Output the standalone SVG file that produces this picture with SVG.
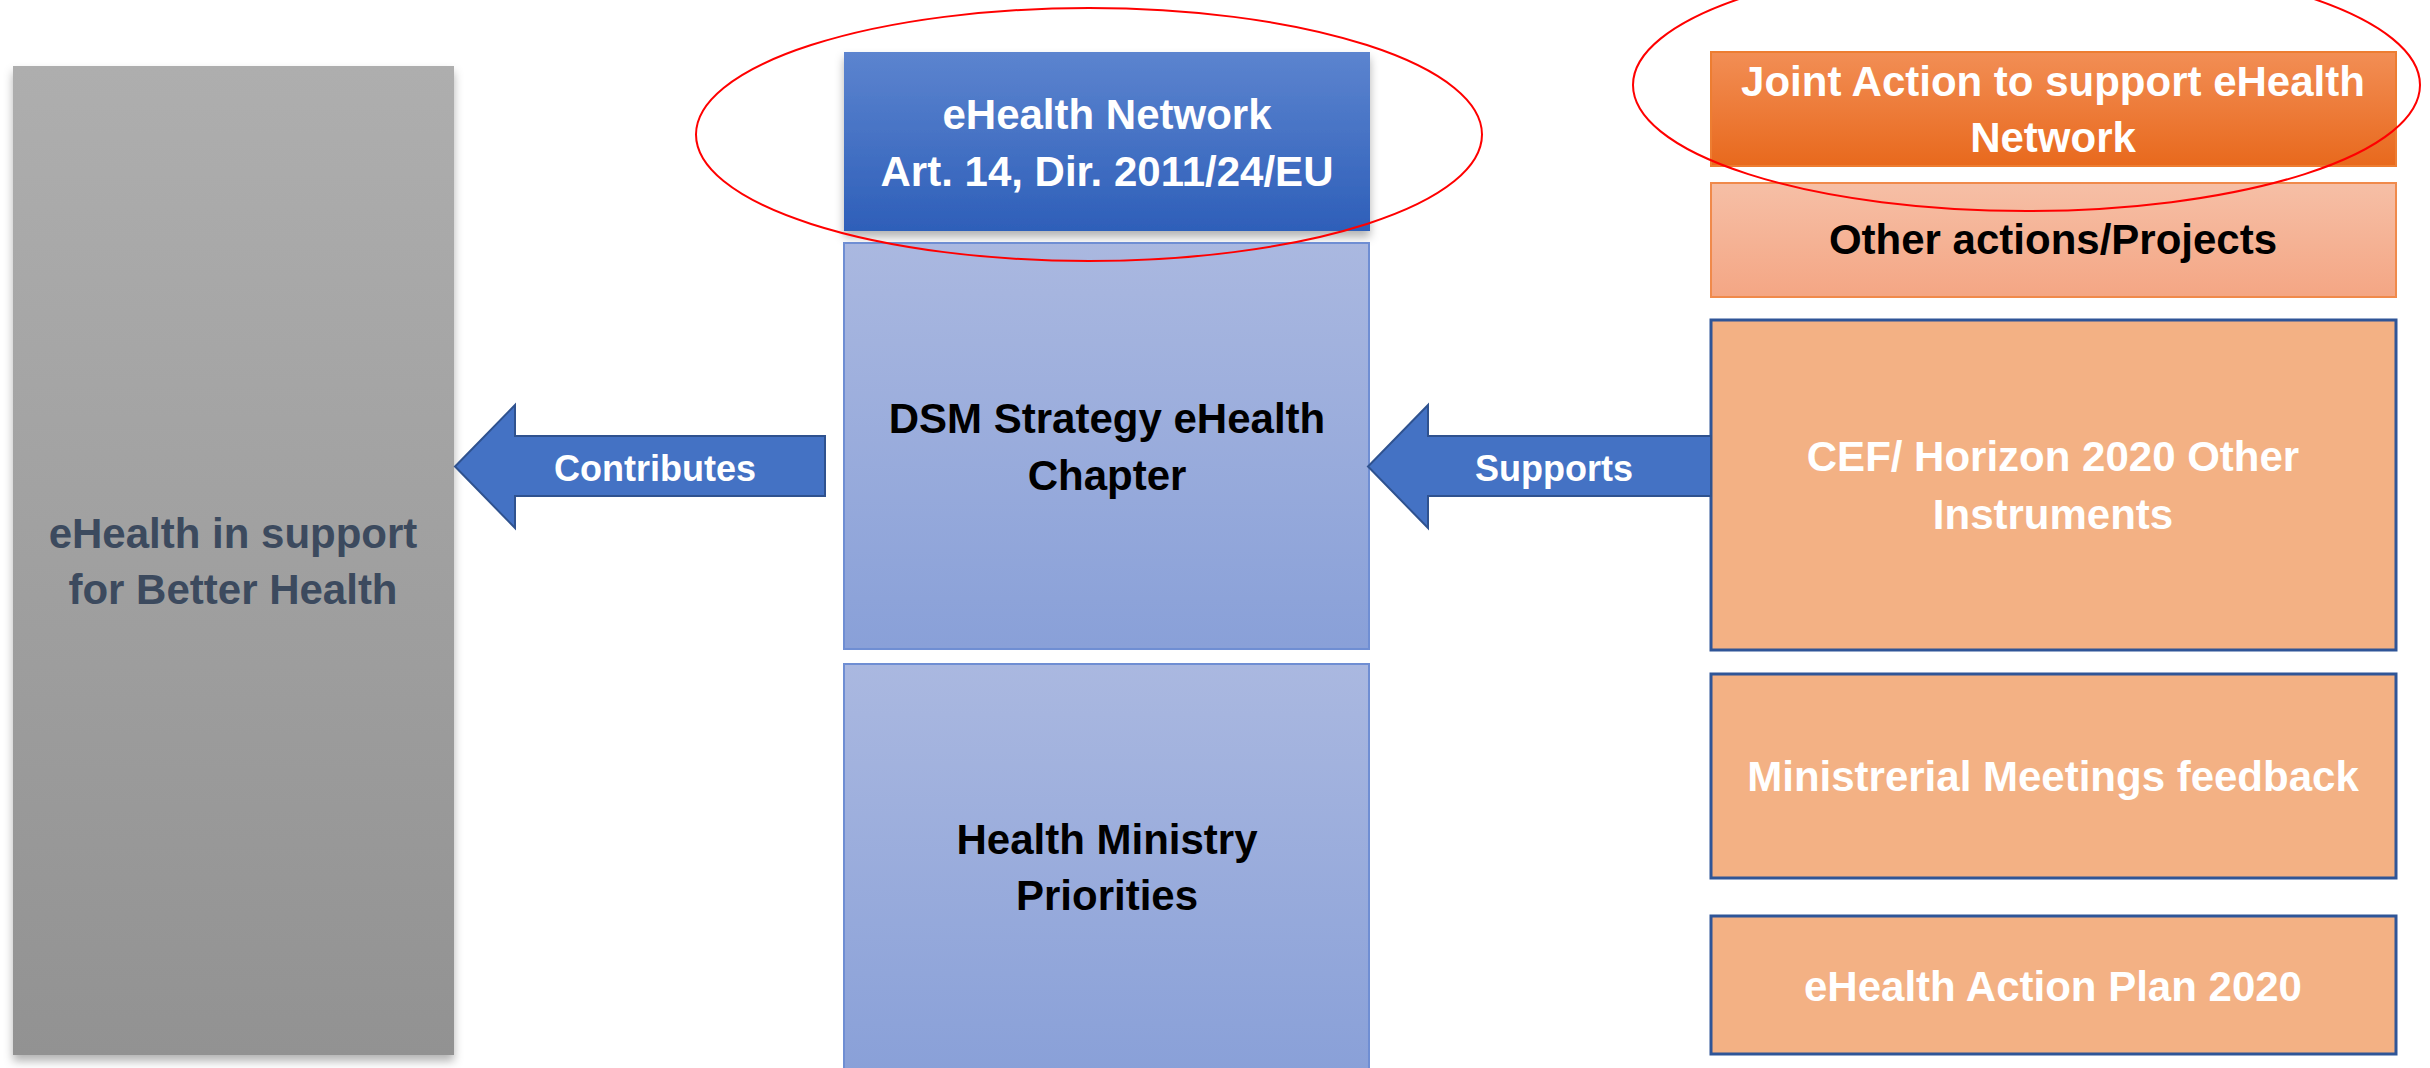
<svg xmlns="http://www.w3.org/2000/svg" width="2430" height="1068" viewBox="0 0 2430 1068">
<defs>
<linearGradient id="gGray" x1="0" y1="0" x2="0" y2="1"><stop offset="0" stop-color="#AEAEAE"/><stop offset="1" stop-color="#929292"/></linearGradient>
<linearGradient id="gBlueDark" x1="0" y1="0" x2="0" y2="1"><stop offset="0" stop-color="#5C84CF"/><stop offset="1" stop-color="#2E5FB9"/></linearGradient>
<linearGradient id="gBlueLight" x1="0" y1="0" x2="0" y2="1"><stop offset="0" stop-color="#AAB8E0"/><stop offset="1" stop-color="#89A0D8"/></linearGradient>
<linearGradient id="gOrange" x1="0" y1="0" x2="0" y2="1"><stop offset="0" stop-color="#F28E55"/><stop offset="1" stop-color="#E8691D"/></linearGradient>
<linearGradient id="gSalmon" x1="0" y1="0" x2="0" y2="1"><stop offset="0" stop-color="#F6BFA6"/><stop offset="1" stop-color="#F4A684"/></linearGradient>
<filter id="shadow" x="-10%" y="-10%" width="120%" height="120%"><feDropShadow dx="0" dy="6" stdDeviation="5" flood-color="#000" flood-opacity="0.3"/></filter>
<marker id="unused" markerWidth="1" markerHeight="1"/>
<style>
text{font-family:"Liberation Sans",Arial,sans-serif;font-weight:bold;text-anchor:middle}
.t42{font-size:42px}
.t36{font-size:36px}
.white{fill:#FFFFFF}
.black{fill:#000000}
.slate{fill:#3C4A5E}
.lightbox{fill:url(#gBlueLight);stroke:#6F8ED3;stroke-width:2}
.peach{fill:#F3B184;stroke:#2F5597;stroke-width:3}
.arrow{fill:#4472C4;stroke:#2F528F;stroke-width:2}
.ring{fill:none;stroke:#FF0000;stroke-width:2}
</style>
</defs>
<g id="node-better-health">
<rect x="13" y="66" width="441" height="989" fill="url(#gGray)" filter="url(#shadow)"/>
<text class="t42 slate" x="233" y="548">eHealth in support</text>
<text class="t42 slate" x="233" y="604">for Better Health</text>
</g>
<g id="node-ehealth-network">
<rect x="844" y="52" width="526" height="179" fill="url(#gBlueDark)" filter="url(#shadow)"/>
<text class="t42 white" x="1107" y="129">eHealth Network</text>
<text class="t42 white" x="1107" y="186">Art. 14, Dir. 2011/24/EU</text>
</g>
<g id="node-dsm">
<rect class="lightbox" x="844" y="243" width="525" height="406"/>
<text class="t42 black" x="1107" y="433">DSM Strategy eHealth</text>
<text class="t42 black" x="1107" y="490">Chapter</text>
</g>
<g id="node-health-ministry">
<rect class="lightbox" x="844" y="664" width="525" height="410"/>
<text class="t42 black" x="1107" y="854">Health Ministry</text>
<text class="t42 black" x="1107" y="910">Priorities</text>
</g>
<g id="node-joint-action">
<rect x="1711" y="52" width="685" height="114" fill="url(#gOrange)" stroke="#ED7D31" stroke-width="2"/>
<text class="t42 white" x="2053" y="96">Joint Action to support eHealth</text>
<text class="t42 white" x="2053" y="152">Network</text>
</g>
<g id="node-other-actions">
<rect x="1711" y="183" width="685" height="114" fill="url(#gSalmon)" stroke="#F08A4B" stroke-width="2"/>
<text class="t42 black" x="2053" y="254">Other actions/Projects</text>
</g>
<g id="node-cef">
<rect class="peach" x="1711" y="320" width="685" height="330"/>
<text class="t42 white" x="2053" y="471">CEF/ Horizon 2020 Other</text>
<text class="t42 white" x="2053" y="529">Instruments</text>
</g>
<g id="node-ministerial">
<rect class="peach" x="1711" y="674" width="685" height="204"/>
<text class="t42 white" x="2053" y="791">Ministrerial Meetings feedback</text>
</g>
<g id="node-action-plan">
<rect class="peach" x="1711" y="916" width="685" height="138"/>
<text class="t42 white" x="2053" y="1001">eHealth Action Plan 2020</text>
</g>
<g id="connectors">
<path class="arrow" d="M825,436 L515,436 L515,405 L455,466.5 L515,528 L515,496 L825,496 Z"/>
<text class="t36 white" x="655" y="481">Contributes</text>
<path class="arrow" d="M1711,436 L1428,436 L1428,405 L1368,466.5 L1428,528 L1428,496 L1711,496 Z"/>
<text class="t36 white" x="1554" y="481">Supports</text>
</g>
<g id="highlights">
<ellipse class="ring" cx="1089" cy="134.5" rx="393" ry="126.5"/>
<ellipse class="ring" cx="2026.5" cy="85" rx="393.5" ry="126"/>
</g>
</svg>
